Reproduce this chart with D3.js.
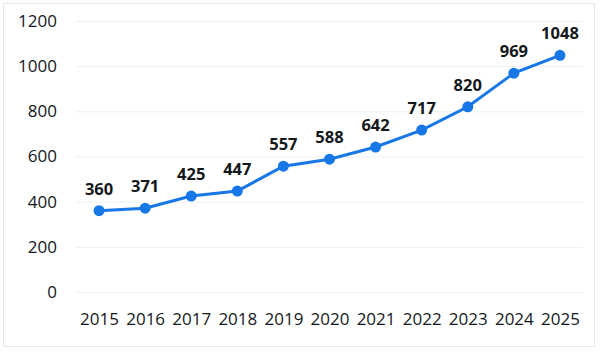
<!DOCTYPE html>
<html>
<head>
<meta charset="utf-8">
<script src="https://cdn.jsdelivr.net/npm/d3@7"></script>
<style>
  body { margin: 0; background: #fff; }
  svg text { font-family: "Open Sans", "Noto Sans", sans-serif; }
</style>
</head>
<body>
<div class="chart"></div>
<script>
// 資料
const years = ["2015", "2016", "2017", "2018", "2019", "2020", "2021", "2022", "2023", "2024", "2025"]
const values = [360, 371, 425, 447, 557, 588, 642, 717, 820, 969, 1048]
const yTicks = [0, 200, 400, 600, 800, 1000, 1200]

function drawChart() {
  const svgWidth = 600
  const svgHeight = 352
  const svg = d3.select('.chart')
    .append('svg')
    .attr('width', svgWidth)
    .attr('height', svgHeight)

  // 外框
  svg.append('rect')
    .attr('x', 3.5).attr('y', 3.5)
    .attr('width', 591).attr('height', 343)
    .attr('fill', '#fff')
    .attr('stroke', '#e3e7e9')

  const left = 76, right = 583, top = 21, bottom = 292

  // X 軸
  const xScale = d3.scalePoint()
    .domain(years)
    .range([left, right])
    .padding(0.5)

  // Y 軸
  const yScale = d3.scaleLinear()
    .domain([0, 1200])
    .range([bottom, top])

  // 格線
  svg.append('g')
    .selectAll('line')
    .data(yTicks)
    .enter()
    .append('line')
    .attr('x1', left).attr('x2', right)
    .attr('y1', d => yScale(d) + 0.5).attr('y2', d => yScale(d) + 0.5)
    .attr('stroke', '#edf0f1')
    .attr('stroke-width', 1)

  const yAxis = d3.axisLeft(yScale).tickValues(yTicks).tickFormat(d3.format('d')).tickSize(0).tickPadding(0)
  const gy = svg.append('g')
    .attr('transform', `translate(57, 0)`)
    .call(yAxis)
  gy.select('.domain').remove()
  gy.selectAll('text')
    .attr('font-size', 17)
    .attr('fill', '#14181b')
    .style('font-family', '"Open Sans", sans-serif')

  const xAxis = d3.axisBottom(xScale).tickSize(0).tickPadding(0)
  const gx = svg.append('g')
    .attr('transform', `translate(0, 313)`)
    .call(xAxis)
  gx.select('.domain').remove()
  gx.selectAll('text')
    .attr('font-size', 17)
    .attr('fill', '#14181b')
    .style('font-family', '"Open Sans", sans-serif')

  // 折線
  const line = d3.line()
    .x((d, i) => xScale(years[i]))
    .y(d => yScale(d))

  svg.append('path')
    .datum(values)
    .attr('d', line)
    .attr('fill', 'none')
    .attr('stroke', '#1877e6')
    .attr('stroke-width', 3)

  // 加上點點
  svg.append('g')
    .selectAll('circle')
    .data(values)
    .enter()
    .append('circle')
    .attr('cx', (d, i) => xScale(years[i]))
    .attr('cy', d => yScale(d))
    .attr('r', 5.5)
    .attr('fill', '#1877e6')

  // 數值標籤
  svg.append('g')
    .selectAll('text')
    .data(values)
    .enter()
    .append('text')
    .attr('x', (d, i) => xScale(years[i]))
    .attr('y', d => yScale(d) - 16)
    .attr('text-anchor', 'middle')
    .attr('font-size', 16.5)
    .attr('font-weight', 'bold')
    .attr('fill', '#14181b')
    .text(d => d)
}

drawChart()
</script>
</body>
</html>
